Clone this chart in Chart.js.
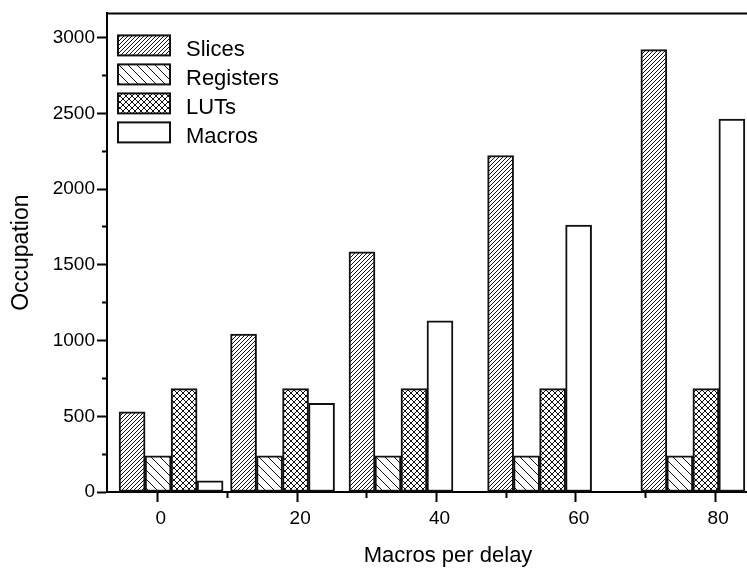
<!DOCTYPE html>
<html>
<head>
<meta charset="utf-8">
<script src="https://cdn.jsdelivr.net/npm/chart.js@4/dist/chart.umd.min.js"></script>
<style>
  html, body { margin: 0; padding: 0; background: #fff; overflow: hidden; }
  #wrap { width: 800px; height: 569px; }
</style>
</head>
<body>
<div id="wrap"><canvas id="chart"></canvas></div>
<script>
// group positions on the x axis
const groupX = [1.9, 17.9, 34.9, 54.8, 76.8]
const seriesNames = ['Slices', 'Registers', 'LUTs', 'Macros']
const slices = [530, 1043, 1585, 2222, 2921]
const registers = [238, 238, 238, 238, 238]
const luts = [683, 683, 683, 683, 683]
const macros = [74, 585, 1130, 1762, 2463]
const xTickLabels = [0, 20, 40, 60, 80]
const yTickLabels = [0, 500, 1000, 1500, 2000, 2500, 3000]

const FONT = "'Liberation Sans', Arial, sans-serif"

function hatch(size, fwd, back) {
    const c = document.createElement('canvas')
    c.width = size
    c.height = size
    const g = c.getContext('2d')
    g.fillStyle = '#fff'
    g.fillRect(0, 0, size, size)
    g.strokeStyle = '#111'
    g.lineWidth = 1
    for (let k = -1; k <= 1; k++) {
        const o = k * size
        if (fwd) {
            g.beginPath(); g.moveTo(o, size); g.lineTo(o + size, 0); g.stroke()
        }
        if (back) {
            g.beginPath(); g.moveTo(o, 0); g.lineTo(o + size, size); g.stroke()
        }
    }
    return g.createPattern(c, 'repeat')
}

const fills = [
    hatch(4, true, false),
    hatch(9, false, true),
    hatch(6, true, true),
    '#fff'
]

const seriesValues = [slices, registers, luts, macros]

const datasets = seriesNames.map((name, i) => ({
    label: name,
    data: groupX.map((x, j) => ({ x, y: seriesValues[i][j] })),
    backgroundColor: fills[i],
    borderColor: '#111',
    borderWidth: 2,
    borderSkipped: false,
    barThickness: 26
}))

const insideLegend = {
    id: 'insideLegend',
    afterDraw(chart) {
        const { ctx, chartArea } = chart
        ctx.save()
        // frame around plot
        ctx.strokeStyle = '#000'
        ctx.lineWidth = 2
        ctx.beginPath()
        ctx.moveTo(chartArea.left, chartArea.top)
        ctx.lineTo(chartArea.right, chartArea.top)
        ctx.lineTo(chartArea.right, chartArea.bottom)
        ctx.stroke()
        ctx.font = '22px ' + FONT
        ctx.textBaseline = 'alphabetic'
        chart.data.datasets.forEach((ds, i) => {
            const x = chartArea.left + 11
            const y = chartArea.top + 22 + i * 29
            ctx.fillStyle = ds.backgroundColor
            ctx.fillRect(x, y, 52, 20)
            ctx.strokeStyle = '#111'
            ctx.lineWidth = 2
            ctx.strokeRect(x, y, 52, 20)
            ctx.fillStyle = '#000'
            ctx.fillText(ds.label, x + 68, y + 21)
        })
        ctx.restore()
    }
}

new Chart(
    document.getElementById('chart'),
    {
        type: 'bar',
        data: { datasets },
        plugins: [insideLegend],
        options: {
            responsive: true,
            maintainAspectRatio: false,
            animation: false,
            layout: { padding: { top: 10, right: 11, left: 0, bottom: 0 } },
            plugins: {
                legend: { display: false },
                tooltip: { enabled: false }
            },
            scales: {
                x: {
                    type: 'linear',
                    offset: false,
                    min: -7.3,
                    max: 90.6,
                    afterFit: s => { s.height = 77 },
                    border: { color: '#000', width: 2 },
                    grid: {
                        offset: false,
                        drawOnChartArea: false,
                        tickLength: 10,
                        tickColor: '#000',
                        tickWidth: 2,
                        tickBorderDash: c => (c.tick && xTickLabels.includes(c.tick.value)) ? [] : [5, 100]
                    },
                    ticks: {
                        stepSize: 10,
                        includeBounds: false,
                        maxRotation: 0,
                        autoSkip: false,
                        padding: 5,
                        labelOffset: 3,
                        color: '#000',
                        font: { family: FONT, size: 19 },
                        callback: v => xTickLabels.includes(v) ? String(v) : ''
                    },
                    title: {
                        display: true,
                        text: 'Macros per delay',
                        color: '#000',
                        font: { family: FONT, size: 22 },
                        padding: { top: 0, bottom: 0 }
                    }
                },
                y: {
                    min: 0,
                    max: 3160,
                    afterFit: s => { s.width = 107 },
                    border: { color: '#000', width: 2 },
                    grid: {
                        drawOnChartArea: false,
                        tickLength: 10,
                        tickColor: '#000',
                        tickWidth: 2,
                        tickBorderDash: c => (c.tick && yTickLabels.includes(c.tick.value)) ? [] : [0, 5, 5, 100]
                    },
                    ticks: {
                        stepSize: 250,
                        includeBounds: false,
                        autoSkip: false,
                        padding: 2,
                        color: '#000',
                        font: { family: FONT, size: 19 },
                        callback: v => yTickLabels.includes(v) ? String(v) : ''
                    },
                    title: {
                        display: true,
                        text: 'Occupation',
                        color: '#000',
                        font: { family: FONT, size: 23 },
                        padding: { top: 8, bottom: 0 }
                    }
                }
            }
        }
    }
)
</script>
</body>
</html>
